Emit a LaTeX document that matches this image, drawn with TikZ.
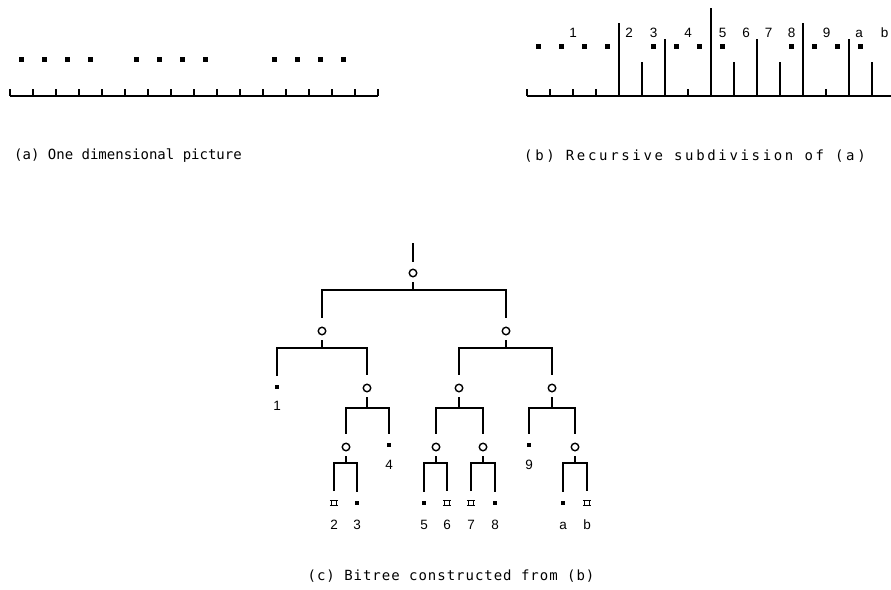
\documentclass[tikz,border=0pt]{standalone}
\usepackage{fontspec}
\setmainfont{Liberation Sans}
\newfontfamily\capfonta[LetterSpace=0]{DejaVu Sans Mono}
\newfontfamily\capfontb[LetterSpace=19]{DejaVu Sans Mono}
\newfontfamily\capfontc[LetterSpace=7]{DejaVu Sans Mono}
\begin{document}
\begin{tikzpicture}[x=1pt,y=-1pt,
  innernode/.style={circle, draw, line width=1.4pt, minimum size=7.5pt, inner sep=0pt},
  fullleaf/.style={rectangle, fill=black, minimum size=4.6pt, inner sep=0pt},
  emptyleaf/.style={rectangle, draw, line width=1.1pt, minimum width=4.4pt, minimum height=4.6pt, inner sep=0pt},
  labeltext/.style={font=\fontsize{13.5}{15}\selectfont, inner sep=0pt, anchor=base},
  captext/.style={font=\fontsize{14}{16}\selectfont, inner sep=0pt},
  branch/.style={line width=1.8pt, shorten <=9pt, shorten >=9pt},
  stemline/.style={line width=1.8pt, shorten <=5pt},
  axis/.style={line width=1.8pt},
  tickline/.style={line width=1.6pt},
  dotmark/.style={fill=black}
]
\useasboundingbox (0,0) rectangle (891,589);

% ---------- (a) one dimensional picture ----------
\draw[axis] (10,96) -- (378,96);
\foreach \k in {0,...,16} \draw[tickline] (10+23*\k,96) -- (10+23*\k,89);
\foreach \c in {0,1,2,3,5,6,7,8,11,12,13,14}
  \fill[dotmark] (21.5+23*\c-2.3,57) rectangle ++(4.6,4.6);
\node[captext, anchor=west] (capa) at (14,156) {\capfonta (a) One dimensional picture};

% ---------- (b) recursive subdivision ----------
\draw[axis] (527,96) -- (891,96);
\foreach \k/\t in {0/89,1/89,2/89,3/89,4/23,5/62,6/39,7/89,8/8,9/62,10/39,11/62,12/23,13/89,14/39,15/62}
  \draw[tickline] (527+23*\k,96) -- (527+23*\k,\t);
\foreach \c in {0,1,2,3,5,6,7,8,11,12,13,14}
  \fill[dotmark] (538.5+23*\c-2.3,44) rectangle ++(4.6,4.6);
\foreach \t/\x in {1/573,2/629,3/653.5,4/688,5/722.5,6/746,7/768.5,8/791.5,9/826.5,a/859,b/884.5}
  \node[labeltext] (sub\t) at (\x,37) {\t};
\node[captext, anchor=west] (capb) at (524,156) {\capfontb (b) Recursive subdivision of (a)};

% ---------- (c) bitree ----------
\coordinate (top) at (413,243);
\node[innernode] (R) at (413,273) {};
\node[innernode] (A) at (322,331) {};
\node[innernode] (B) at (506,331) {};
\node[fullleaf]  (L1) at (277,387) {};
\node[innernode] (C) at (367,388) {};
\node[innernode] (D) at (346,447) {};
\node[fullleaf]  (L4) at (389,445) {};
\node[emptyleaf] (L2) at (334,503) {};
\node[fullleaf]  (L3) at (357,503) {};
\node[innernode] (E) at (459,388) {};
\node[innernode] (F) at (552,388) {};
\node[innernode] (G) at (436,447) {};
\node[innernode] (H) at (483,447) {};
\node[fullleaf]  (L5) at (424,503) {};
\node[emptyleaf] (L6) at (447,503) {};
\node[emptyleaf] (L7) at (471,503) {};
\node[fullleaf]  (L8) at (495,503) {};
\node[fullleaf]  (L9) at (529,445) {};
\node[innernode] (I) at (575,447) {};
\node[fullleaf]  (La) at (563,503) {};
\node[emptyleaf] (Lb) at (587,503) {};

\foreach \n in {L2,L6,L7,Lb} {
  \draw[line width=1.1pt] ([xshift=-1.3pt]\n.north west) -- ([xshift=1.3pt]\n.north east);
  \draw[line width=1.1pt] ([xshift=-1.3pt]\n.south west) -- ([xshift=1.3pt]\n.south east);
}

% labels of leaves
\node[labeltext] (t1) at (277,410) {1};
\node[labeltext] (t4) at (389,469) {4};
\node[labeltext] (t9) at (529,469) {9};
\foreach \t/\x in {2/334,3/357,5/424,6/447,7/471,8/495,a/563,b/587}
  \node[labeltext] (t\t) at (\x,529) {\t};

% bar coordinates
\coordinate (Rb) at (413,290);
\coordinate (Ab) at (322,348);
\coordinate (Bb) at (506,348);
\coordinate (Cb) at (367,408);
\coordinate (Eb) at (459,408);
\coordinate (Fb) at (552,408);
\coordinate (Db) at (346,463);
\coordinate (Gb) at (436,463);
\coordinate (Hb) at (483,463);
\coordinate (Ib) at (575,463);

\draw[line width=1.8pt, shorten >=7pt] (top) -- (R);
\foreach \p/\l/\r in {R/A/B, A/L1/C, B/E/F, C/D/L4, E/G/H, F/L9/I, D/L2/L3, G/L5/L6, H/L7/L8, I/La/Lb} {
  \draw[stemline] (\p) -- (\p b);
  \draw[branch] (\l) |- (\p b) -| (\r);
}

\node[captext] (capc) at (451,576) {\capfontc (c) Bitree constructed from (b)};
\end{tikzpicture}
\end{document}
